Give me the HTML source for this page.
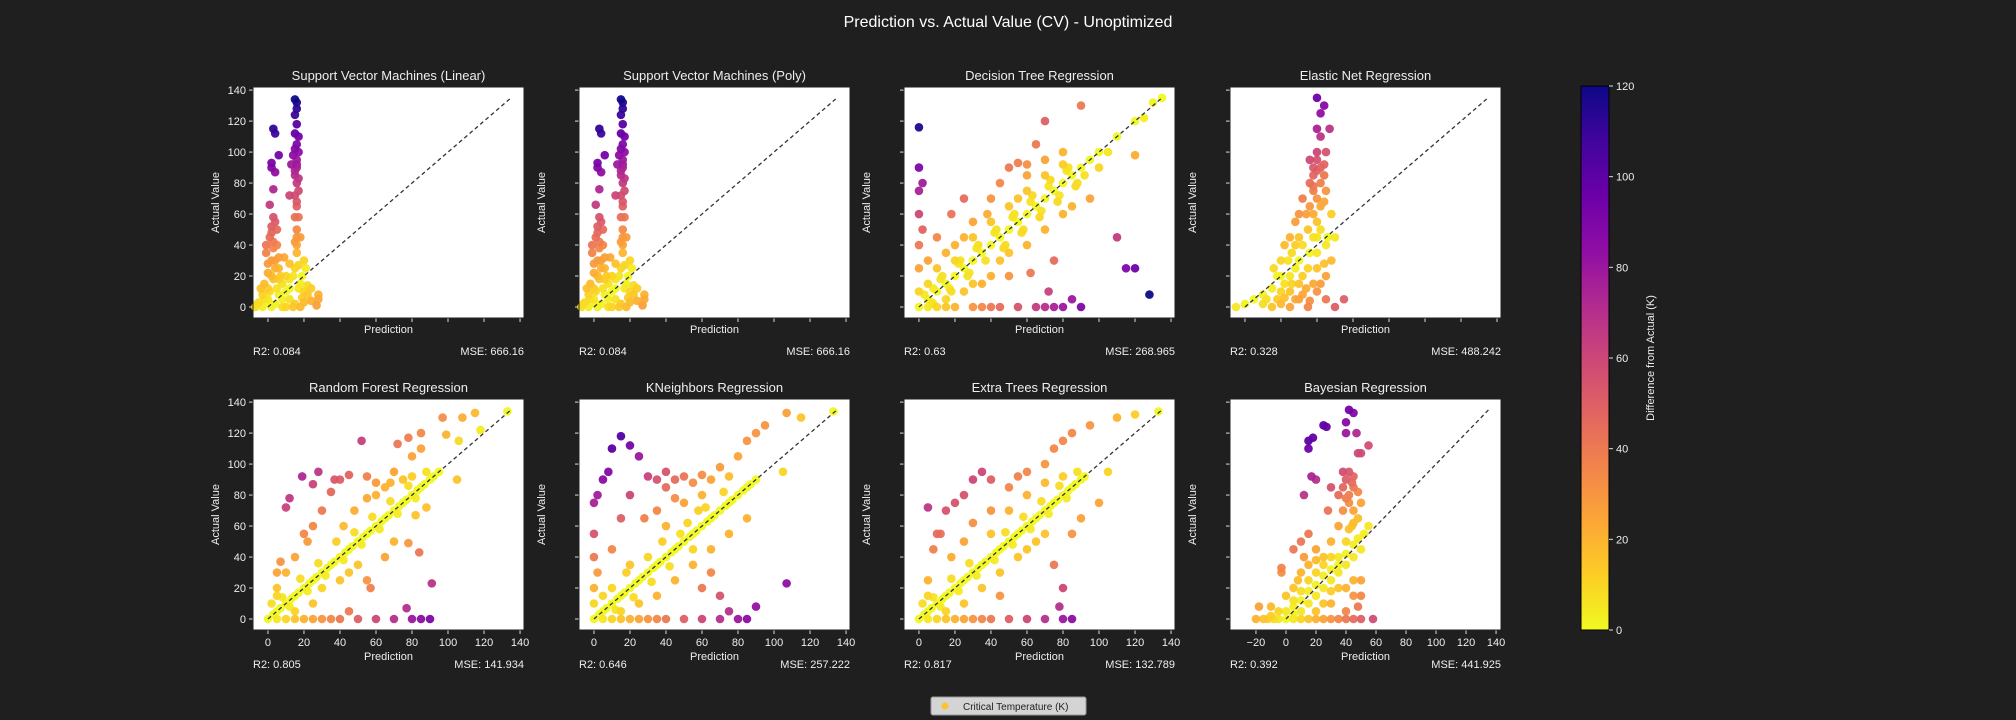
<!DOCTYPE html>
<html><head><meta charset="utf-8">
<style>
html,body{margin:0;padding:0;background:#1f1f1f;}
svg{display:block;font-family:"Liberation Sans","DejaVu Sans",sans-serif;}
</style></head>
<body>
<svg id="fig" width="2016" height="720" viewBox="0 0 2016 720" xmlns="http://www.w3.org/2000/svg">
<rect width="2016" height="720" fill="#1f1f1f"/>
<text x="1008" y="27" text-anchor="middle" fill="#ffffff" font-size="16">Prediction vs. Actual Value (CV) - Unoptimized</text>
<defs><linearGradient id="plasma" x1="0" y1="1" x2="0" y2="0">
<stop offset="0" stop-color="#f0f921"/><stop offset="0.1" stop-color="#fcce25"/><stop offset="0.2" stop-color="#fca636"/><stop offset="0.3" stop-color="#f2844b"/><stop offset="0.4" stop-color="#e16462"/><stop offset="0.5" stop-color="#cc4778"/><stop offset="0.6" stop-color="#b12a90"/><stop offset="0.7" stop-color="#8f0da4"/><stop offset="0.8" stop-color="#6a00a8"/><stop offset="0.9" stop-color="#41049d"/><stop offset="1" stop-color="#0d0887"/>
</linearGradient></defs>
<g id="plots"></g>
<g id="cbar"></g>
<g>
<rect x="931" y="697" width="155" height="18" rx="2" fill="#d4d4d4" stroke="#999"/>
<circle cx="945" cy="706" r="3.5" fill="#fcc32d"/>
<text x="963" y="710" font-size="10" fill="#222">Critical Temperature (K)</text>
</g>
</svg>
<script>
const titles=["Support Vector Machines (Linear)","Support Vector Machines (Poly)","Decision Tree Regression","Elastic Net Regression","Random Forest Regression","KNeighbors Regression","Extra Trees Regression","Bayesian Regression"];
const r2Values=["0.084","0.084","0.63","0.328","0.805","0.646","0.817","0.392"];
const mseValues=["666.16","666.16","268.965","488.242","141.934","257.222","132.789","441.925"];
const yTicks=[0,20,40,60,80,100,120,140];
const xTicks=[0,20,40,60,80,100,120,140];
const xTicksBayes=[-20,0,20,40,60,80,100,120,140];
const cbarTicks=[0,20,40,60,80,100,120];
const svmPoints=[[-7,0],[-5,3],[-3,8],[-2,15],[0,22],[2,30],[3,38],[1,45],[4,55],[3,58],[2,48],[5,40],[6,32],[-1,35],[0,28],[4,25],[7,20],[8,15],[10,10],[12,5],[15,2],[18,0],[20,3],[22,8],[24,4],[27,1],[28,8],[28,5],[17,12],[19,20],[17,27],[20,30],[16,35],[15,42],[16,50],[15,58],[17,58],[16,65],[15,72],[16,80],[15,88],[16,95],[17,100],[14,98],[16,105],[15,112],[16,118],[15,124],[16,132],[15,134],[3,115],[4,112],[2,93],[2,90],[4,87],[6,98],[3,76],[1,66],[12,72],[13,92],[10,20],[5,12],[0,5],[-3,0],[10,0],[14,0],[8,5],[12,28],[9,32],[-6,2],[1,10],[3,18],[6,8],[-2,5],[14,20],[18,15],[21,25],[0,12],[2,20],[4,30],[6,25],[-1,40],[2,52],[16,45],[17,75],[15,85],[16,90],[16,40],[18,45],[15,25],[20,10],[22,14],[12,12],[8,0],[4,2],[2,0],[6,18],[16,68],[17,83],[16,92],[15,102],[17,110],[16,128],[-4,12],[1,2],[24,12],[19,6],[12,18],[3,42],[5,50]];
const svmPolyPoints=[[-7,0],[-5,3],[-3,8],[-2,15],[0,22],[2,30],[3,38],[1,45],[4,55],[3,58],[2,48],[5,40],[6,32],[-1,35],[0,28],[4,25],[7,20],[8,15],[10,10],[12,5],[15,2],[18,0],[20,3],[22,8],[24,4],[27,1],[28,8],[28,5],[17,12],[19,20],[17,27],[20,30],[16,35],[15,42],[16,50],[15,58],[17,58],[16,65],[15,72],[16,80],[15,88],[16,95],[17,100],[14,98],[16,105],[15,112],[16,118],[15,124],[16,132],[15,134],[3,115],[4,112],[2,93],[2,90],[4,87],[6,98],[3,76],[1,66],[12,72],[13,92],[10,20],[5,12],[0,5],[-3,0],[10,0],[14,0],[8,5],[12,28],[9,32],[-6,2],[1,10],[3,18],[6,8],[-2,5],[14,20],[18,15],[21,25],[0,12],[2,20],[4,30],[6,25],[-1,40],[2,52],[16,45],[17,75],[15,85],[16,90],[16,40],[18,45],[15,25],[20,10],[22,14],[12,12],[8,0],[4,2],[2,0],[6,18],[16,68],[17,83],[16,92],[15,102],[17,110],[16,128],[-4,12],[1,2],[24,12],[19,6],[12,18],[3,42],[5,50]];
const dtPoints=[[0,0],[5,5],[10,10],[15,15],[20,20],[25,25],[30,30],[35,35],[40,40],[45,45],[50,50],[55,55],[60,60],[65,65],[70,70],[75,75],[80,80],[85,85],[90,90],[95,95],[100,100],[110,110],[120,120],[130,132],[135,135],[5,15],[10,25],[15,35],[20,40],[30,55],[40,70],[45,80],[50,90],[55,93],[60,92],[70,95],[80,100],[65,105],[70,120],[90,130],[60,85],[25,70],[18,60],[10,45],[5,30],[0,25],[0,60],[0,75],[0,90],[0,116],[2,80],[8,12],[15,5],[25,10],[30,15],[40,20],[45,30],[50,35],[60,40],[70,50],[80,60],[75,30],[85,65],[95,70],[100,90],[105,100],[120,98],[125,122],[110,45],[120,25],[128,8],[115,25],[85,5],[80,0],[75,0],[70,0],[65,0],[90,0],[55,0],[40,0],[30,0],[20,0],[10,0],[35,15],[50,20],[25,45],[38,60],[55,70],[62,22],[72,10],[12,18],[22,28],[32,38],[42,48],[52,58],[62,68],[72,78],[82,88],[8,2],[18,10],[28,22],[48,40],[58,50],[68,62],[78,72],[88,80],[3,8],[7,3],[13,20],[17,12],[23,30],[27,20],[33,40],[37,30],[43,50],[47,38],[53,60],[57,48],[63,72],[67,58],[73,82],[77,68],[83,90],[87,78],[92,85],[0,10],[0,40],[2,50],[5,0],[15,0],[45,0],[35,0],[20,30],[30,45],[40,55],[50,65],[60,75],[70,85],[80,92]];
const enPoints=[[-5,0],[0,2],[5,5],[10,8],[15,12],[18,20],[20,30],[22,40],[25,45],[20,10],[25,20],[28,25],[30,30],[32,40],[35,50],[38,60],[40,70],[42,80],[38,90],[40,95],[45,100],[42,110],[40,115],[42,125],[40,135],[44,130],[38,85],[45,75],[48,60],[50,45],[45,40],[40,35],[35,25],[30,15],[40,10],[45,5],[50,0],[55,5],[35,0],[25,0],[15,0],[10,2],[30,60],[32,70],[28,55],[48,30],[45,20],[42,50],[36,95],[47,115],[38,75],[40,88],[44,92],[42,65],[38,45],[30,5],[22,15],[26,35],[34,12],[40,25],[20,2],[22,6],[25,10],[28,5],[32,8],[36,4],[38,15],[42,15],[44,28],[46,45],[40,55],[36,65],[38,78],[42,90],[44,85],[40,100],[36,80],[34,60],[30,45],[28,40],[24,30],[20,20],[16,25],[12,5],[18,5],[26,15],[32,20],[36,35],[40,45],[44,68]];
const rfPoints=[[0,0],[5,5],[10,10],[15,15],[20,20],[25,25],[30,30],[35,35],[40,40],[45,45],[50,50],[55,55],[60,60],[65,65],[70,70],[75,75],[80,80],[85,85],[90,90],[95,95],[5,20],[5,30],[10,30],[15,40],[20,55],[22,50],[25,60],[30,70],[35,82],[40,90],[45,93],[55,92],[60,80],[65,85],[70,95],[80,105],[85,110],[72,113],[78,117],[85,120],[97,130],[108,130],[115,133],[99,119],[106,115],[118,122],[133,134],[105,90],[10,72],[12,78],[19,92],[25,87],[28,95],[37,90],[52,115],[7,37],[15,5],[25,10],[30,20],[40,25],[45,30],[50,35],[55,25],[57,20],[65,40],[70,50],[78,49],[84,43],[82,67],[88,72],[91,23],[77,7],[45,5],[30,0],[40,0],[50,0],[60,0],[70,0],[80,0],[85,0],[90,0],[20,0],[10,0],[12,8],[22,18],[32,28],[42,38],[52,48],[62,58],[72,68],[82,78],[8,14],[18,26],[28,36],[48,56],[58,66],[68,76],[78,86],[3,3],[7,7],[13,13],[17,17],[23,23],[27,27],[33,33],[37,37],[43,43],[47,47],[53,53],[57,57],[63,63],[67,67],[73,73],[77,77],[83,83],[87,87],[92,92],[5,0],[15,0],[25,0],[35,0],[2,10],[5,15],[38,50],[42,60],[48,70],[55,78],[60,88],[68,88],[75,90],[80,92],[88,95]];
const knPoints=[[0,0],[5,5],[10,10],[15,15],[20,20],[25,25],[30,30],[35,35],[40,40],[45,45],[50,50],[55,55],[60,60],[65,65],[70,70],[75,75],[80,80],[85,85],[90,90],[0,20],[0,40],[0,55],[0,75],[2,80],[5,90],[8,95],[10,110],[15,118],[20,112],[25,105],[30,92],[20,80],[15,65],[10,45],[35,90],[40,95],[50,92],[60,93],[70,98],[80,105],[85,115],[90,120],[95,125],[107,133],[115,130],[133,134],[105,95],[28,65],[35,70],[45,78],[10,20],[20,35],[15,5],[25,10],[35,15],[45,25],[55,35],[65,45],[75,55],[85,65],[60,20],[70,15],[75,5],[90,8],[107,23],[50,0],[60,0],[70,0],[80,0],[85,0],[40,0],[30,0],[20,0],[10,0],[55,45],[65,30],[48,55],[12,6],[22,14],[32,24],[42,34],[52,62],[62,72],[72,82],[5,15],[18,30],[38,50],[58,70],[3,3],[7,7],[13,13],[17,17],[23,23],[27,27],[33,33],[37,37],[43,43],[47,47],[53,53],[57,57],[63,63],[67,67],[73,73],[77,77],[83,83],[87,87],[5,0],[15,0],[25,0],[35,0],[0,10],[2,30],[40,85],[45,90],[55,88],[65,90],[75,92],[30,40],[40,60],[50,75],[60,80]];
const etPoints=[[0,0],[5,5],[10,10],[15,15],[20,20],[25,25],[30,30],[35,35],[40,40],[45,45],[50,50],[55,55],[60,60],[65,65],[70,70],[75,75],[80,80],[85,85],[90,90],[5,25],[8,45],[10,55],[15,70],[20,75],[25,80],[30,90],[35,95],[40,90],[50,85],[55,92],[60,95],[70,100],[75,110],[80,115],[85,120],[95,125],[110,130],[120,132],[133,134],[105,95],[100,75],[5,72],[12,55],[18,40],[25,50],[30,62],[40,70],[15,5],[25,10],[35,20],[45,30],[55,40],[60,45],[65,50],[70,55],[75,35],[80,20],[78,8],[85,55],[90,65],[60,0],[70,0],[80,0],[85,0],[50,0],[40,0],[30,0],[20,0],[10,0],[45,15],[12,8],[22,18],[32,28],[42,38],[52,48],[62,58],[72,68],[82,78],[8,14],[18,26],[28,36],[48,56],[58,66],[68,76],[78,86],[3,3],[7,7],[13,13],[17,17],[23,23],[27,27],[33,33],[37,37],[43,43],[47,47],[53,53],[57,57],[63,63],[67,67],[73,73],[77,77],[83,83],[87,87],[92,92],[5,0],[15,0],[25,0],[35,0],[2,10],[5,15],[40,55],[50,70],[60,80],[70,88],[80,92],[88,95]];
const brPoints=[[-20,0],[-15,0],[-10,2],[-18,8],[-5,5],[0,0],[5,3],[10,5],[15,10],[20,15],[25,20],[30,25],[35,30],[40,35],[45,40],[50,45],[55,60],[52,55],[48,65],[45,70],[42,80],[40,90],[38,95],[35,80],[30,85],[20,90],[17,92],[15,110],[15,115],[18,117],[25,125],[27,124],[40,127],[42,135],[45,133],[40,120],[47,120],[55,112],[50,107],[48,107],[-3,30],[-3,33],[5,45],[10,50],[15,55],[20,45],[25,40],[30,50],[28,70],[35,60],[10,30],[0,15],[5,20],[15,25],[20,5],[30,10],[40,5],[45,0],[50,0],[58,0],[35,0],[25,0],[45,15],[50,25],[40,20],[35,40],[12,80],[40,50],[42,75],[38,70],[45,85],[44,60],[-10,8],[5,12],[10,18],[20,30],[30,40],[-12,0],[-8,0],[-5,0],[5,0],[10,0],[15,0],[20,0],[30,0],[40,0],[0,5],[5,8],[10,12],[15,18],[20,22],[25,28],[30,32],[35,35],[40,42],[45,48],[48,52],[42,58],[45,62],[40,78],[44,88],[38,85],[42,95],[45,92],[48,82],[50,75],[35,20],[30,18],[45,25],[50,15],[48,8],[25,10],[15,35],[20,38],[25,35],[8,25],[12,40]];
const series=[svmPoints,svmPolyPoints,dtPoints,enPoints,rfPoints,knPoints,etPoints,brPoints];

const NS="http://www.w3.org/2000/svg";
function mk(tag,attrs,parent){const e=document.createElementNS(NS,tag);for(const k in attrs)e.setAttribute(k,attrs[k]);parent.appendChild(e);return e;}
const stops=["#0d0887","#41049d","#6a00a8","#8f0da4","#b12a90","#cc4778","#e16462","#f2844b","#fca636","#fcce25","#f0f921"];
function hex(h){return [parseInt(h.substr(1,2),16),parseInt(h.substr(3,2),16),parseInt(h.substr(5,2),16)];}
function plasma(t){t=Math.max(0,Math.min(1,t));const p=t*10,i=Math.min(9,Math.floor(p)),f=p-i;const a=hex(stops[i]),b=hex(stops[i+1]);return "rgb("+a.map((v,k)=>Math.round(v+(b[k]-v)*f)).join(",")+")";}

const colX=[253,579,904,1230],rowY=[87,399],W=271,H=231;
const root=document.getElementById("plots");
for(let i=0;i<8;i++){
  const col=i%4,row=Math.floor(i/4);
  const L=colX[col],T=rowY[row];
  const bayes=(i===7);
  const xmin=bayes?-37.3:-8.3, xmax=bayes?143.3:142.2, ymin=-7.1, ymax=142;
  const sx=v=>L+(v-xmin)/(xmax-xmin)*W;
  const sy=v=>T+H-(v-ymin)/(ymax-ymin)*H;
  const g=mk("g",{},root);
  
  
  const bg=mk("rect",{x:L,y:T,width:W,height:H,fill:"#ffffff"},g);
  
  
  const tt=mk("text",{x:L+W/2,y:T-7,"text-anchor":"middle",fill:"#eeeeee","font-size":"13"},g);tt.textContent=titles[i];
  
  
  yTicks.forEach(v=>{const y=sy(v);mk("line",{x1:L-4,x2:L,y1:y,y2:y,stroke:"#dddddd"},g);
    if(col===0){const t=mk("text",{x:L-7,y:y+4,"text-anchor":"end",fill:"#eeeeee","font-size":"11"},g);t.textContent=v;
      
      }});
  const xt=bayes?xTicksBayes:xTicks;
  xt.forEach(v=>{const x=sx(v);mk("line",{x1:x,x2:x,y1:T+H,y2:T+H+4,stroke:"#dddddd"},g);
    if(row===1){const t=mk("text",{x:x,y:T+H+16,"text-anchor":"middle",fill:"#eeeeee","font-size":"11"},g);t.textContent=(v<0?"\u2212"+(-v):v);
      
      }});
  const yl=mk("text",{x:0,y:0,transform:"translate("+(L-34)+","+(T+H/2)+") rotate(-90)","text-anchor":"middle",fill:"#eeeeee","font-size":"11"},g);yl.textContent="Actual Value";
  
  
  const xl=mk("text",{x:L+W/2,y:row===0?T+H+15:T+H+30,"text-anchor":"middle",fill:"#eeeeee","font-size":"11"},g);xl.textContent="Prediction";
  
  
  const r2=mk("text",{x:L,y:row===0?T+H+37:T+H+38,fill:"#eeeeee","font-size":"11"},g);r2.textContent="R2: "+r2Values[i];
  
  
  const ms=mk("text",{x:L+W,y:row===0?T+H+37:T+H+38,"text-anchor":"end",fill:"#eeeeee","font-size":"11"},g);ms.textContent="MSE: "+mseValues[i];
  
  
  const pts=series[i].slice().sort((a,b)=>Math.abs(a[0]-a[1])-Math.abs(b[0]-b[1]));
  pts.forEach(p=>{const c=mk("circle",{cx:sx(p[0]),cy:sy(p[1]),r:4.3,fill:plasma(1-Math.abs(p[0]-p[1])/120),"fill-opacity":"0.95"},g);
    
    });
  const dl=mk("line",{x1:sx(0),y1:sy(0),x2:sx(135),y2:sy(135),stroke:"#333333","stroke-width":"1.3","stroke-dasharray":"4,3"},g);
  
  
  const fr=mk("rect",{x:L,y:T,width:W,height:H,fill:"none",stroke:"#222222","stroke-width":"1"},g);
  
  
}
const CB_TOP=86,CB_BOT=630;
const cb=document.getElementById("cbar");
const cbr=mk("rect",{x:1581,y:CB_TOP,width:28,height:CB_BOT-CB_TOP,fill:"url(#plasma)",stroke:"#000","stroke-width":"1"},cb);


cbarTicks.forEach(v=>{const y=CB_BOT-v/120*(CB_BOT-CB_TOP);mk("line",{x1:1609,x2:1613,y1:y,y2:y,stroke:"#dddddd"},cb);
  const t=mk("text",{x:1616,y:y+4,fill:"#eeeeee","font-size":"11"},cb);t.textContent=v;
  
  });
const cl=mk("text",{x:0,y:0,transform:"translate(1654,358) rotate(-90)","text-anchor":"middle",fill:"#eeeeee","font-size":"11"},cb);cl.textContent="Difference from Actual (K)";


</script>
</body></html>
